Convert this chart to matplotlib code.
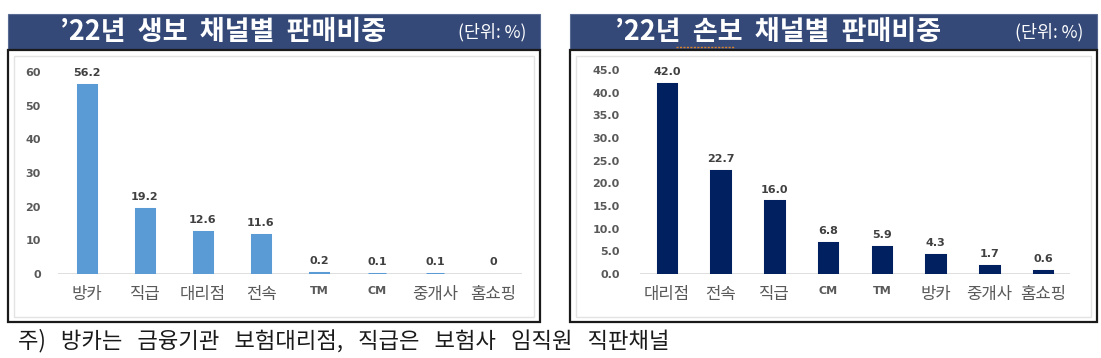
import matplotlib
matplotlib.use("Agg")
import matplotlib.pyplot as plt
from matplotlib.patches import Rectangle

plt.rcParams['font.family'] = ['Noto Sans CJK KR', 'DejaVu Sans']

# 데이터
life_channels = ["방카", "직급", "대리점", "전속", "TM", "CM", "중개사", "홈쇼핑"]
life_share = [56.2, 19.2, 12.6, 11.6, 0.2, 0.1, 0.1, 0]

nonlife_channels = ["대리점", "전속", "직급", "CM", "TM", "방카", "중개사", "홈쇼핑"]
nonlife_share = [42.0, 22.7, 16.0, 6.8, 5.9, 4.3, 1.7, 0.6]

life_title = "\u201922년  생보  채널별  판매비중"
nonlife_title = "\u201922년  손보  채널별  판매비중"
unit_text = "(단위: %)"
footnote = "주)   방카는   금융기관   보험대리점,   직급은   보험사   임직원   직판채널"

W, H = 1101, 358
NAVY = "#344978"
TICK_GRAY = "#595959"
LABEL_GRAY = "#404040"


def px(x0, y0, x1, y1):
    # 픽셀 좌표 -> figure 비율
    return [x0 / W, 1 - y1 / H, (x1 - x0) / W, (y1 - y0) / H]


fig = plt.figure(figsize=(W / 100, H / 100), dpi=100)

# 배경 (패널 틀, 제목 바)
bg = fig.add_axes([0, 0, 1, 1])
bg.set_xlim(0, W)
bg.set_ylim(H, 0)
bg.axis("off")

for (x0, x1, title, tx) in [(8, 540, life_title, 60), (570, 1097, nonlife_title, 615)]:
    bg.add_patch(Rectangle((x0, 14), x1 - x0, 36, facecolor=NAVY, edgecolor="#5a6b94", lw=0.8))
    bg.add_patch(Rectangle((x0, 50), x1 - x0, 272, facecolor="white", edgecolor="#1a1a1a", lw=1.6))
    bg.add_patch(Rectangle((x0 + 6, 56), x1 - x0 - 12, 261, facecolor="none", edgecolor="#e3e3e3", lw=1.0))
    bg.text(tx, 32, title, color="white", fontsize=19.5, fontweight="bold", va="center", ha="left")
    bg.text(x1 - 14, 32, unit_text, color="white", fontsize=12.5, fontweight="medium",
            va="center", ha="right")

# 손보 밑줄 (맞춤법 표시)
bg.plot([676, 734], [46.5, 46.5], color="#d9822b", lw=1.0, ls=(0, (1.5, 1)))

bg.text(18, 341, footnote, fontsize=16, color="#1a1a1a", va="center", ha="left")


def draw_panel(rect, cats, vals, ymax, step, color, fmt, tick_fmt, ypad, bar_w):
    ax = fig.add_axes(px(*rect))
    ax.patch.set_alpha(0)
    x = range(len(cats))
    lws = [2.2 if v > 0 else 0 for v in vals]
    ax.bar(x, vals, width=bar_w, color=color, edgecolor=color, linewidth=lws)
    for i, v in enumerate(vals):
        ax.annotate(fmt(v), (i, v), xytext=(0, 5), textcoords="offset points",
                    ha="center", va="bottom", fontsize=8, fontweight="bold",
                    color=LABEL_GRAY, family="DejaVu Sans", annotation_clip=False)
    ax.set_xlim(-0.5, len(cats) - 0.5)
    ax.set_ylim(0, ymax)
    ticks = [k * step for k in range(int(round(ymax / step)) + 1)]
    ax.set_yticks(ticks)
    ax.set_yticklabels([tick_fmt(t) for t in ticks], fontsize=8, fontweight="bold",
                       color=TICK_GRAY, family="DejaVu Sans")
    ax.set_xticks(list(x))
    ax.set_xticklabels(cats, color=TICK_GRAY)
    for lab, c in zip(ax.get_xticklabels(), cats):
        if c.isascii():
            lab.set_family("DejaVu Sans")
            lab.set_fontweight("bold")
            lab.set_fontsize(8)
        else:
            lab.set_fontsize(12)
    ax.tick_params(axis="y", length=0, pad=ypad)
    ax.tick_params(axis="x", length=0, pad=9)
    for s in ax.spines.values():
        s.set_visible(False)
    ax.axhline(0, color="#d9d9d9", lw=1.2, zorder=0)
    return ax


draw_panel((58, 72, 522, 274), life_channels, life_share, 60, 10, "#5B9BD5",
           lambda v: f"{v:g}", lambda t: f"{t:g}", 12.5, 0.31)
draw_panel((640, 70, 1070, 274), nonlife_channels, nonlife_share, 45, 5, "#002060",
           lambda v: f"{v:.1f}", lambda t: f"{t:.1f}", 14.5, 0.34)

fig.savefig("out.png", dpi=100)
